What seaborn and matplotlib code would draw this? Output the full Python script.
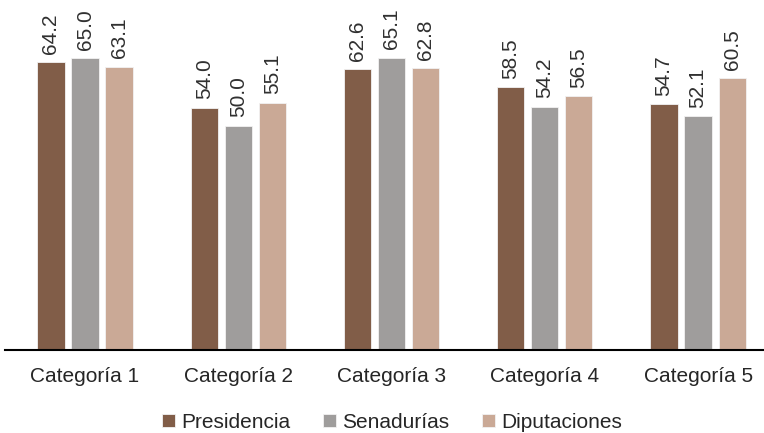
import pandas as pd
import seaborn as sns
import matplotlib.pyplot as plt

categorias = ['Categoría 1', 'Categoría 2', 'Categoría 3', 'Categoría 4', 'Categoría 5']
series = ['Presidencia', 'Senadurías', 'Diputaciones']
presidencia = [64.2, 54.0, 62.6, 58.5, 54.7]
senadurias = [65.0, 50.0, 65.1, 54.2, 52.1]
diputaciones = [63.1, 55.1, 62.8, 56.5, 60.5]
colores = ['#8B5A3E', '#A09D9B', '#D3A78D']

df = pd.DataFrame({
    'categoria': categorias * 3,
    'serie': [s for s in series for _ in categorias],
    'valor': presidencia + senadurias + diputaciones,
})

sns.set_style('white')
plt.rcParams['font.family'] = ['Liberation Sans', 'DejaVu Sans']

fig = plt.figure(figsize=(7.64, 4.33), dpi=100)
ax = fig.add_axes([5 / 764, 1 - 350 / 433, 1 - 5 / 764, 342 / 433])

sns.barplot(data=df, x='categoria', y='valor', hue='serie', palette=colores,
            width=0.666, gap=0.2, edgecolor='#f2f2f2', linewidth=0.6,
            ax=ax, legend=True)

# value labels above bars, rotated
for cont in ax.containers:
    ax.bar_label(cont, labels=['{:.1f}'.format(v) for v in cont.datavalues],
                 rotation=90, padding=6, fontsize=15, color='#303030')

ax.set_ylim(0, 76.2)
ax.set_xlim(-0.522, 4.43)
ax.set_xlabel('')
ax.set_ylabel('')
ax.set_yticks([])
ax.tick_params(axis='x', length=0, labelsize=15, pad=12, labelcolor='#262626')
for side in ['top', 'right', 'left']:
    ax.spines[side].set_visible(False)
ax.spines['bottom'].set_color('black')
ax.spines['bottom'].set_linewidth(1.5)

handles, labels = ax.get_legend_handles_labels()
ax.legend(handles, labels, loc='center', bbox_to_anchor=(0.51, -0.212),
          ncol=3, frameon=False, fontsize=15, handlelength=0.6, handleheight=0.6,
          handletextpad=0.3, columnspacing=1.6, labelcolor='#262626')

fig.savefig('out.png', dpi=100)
